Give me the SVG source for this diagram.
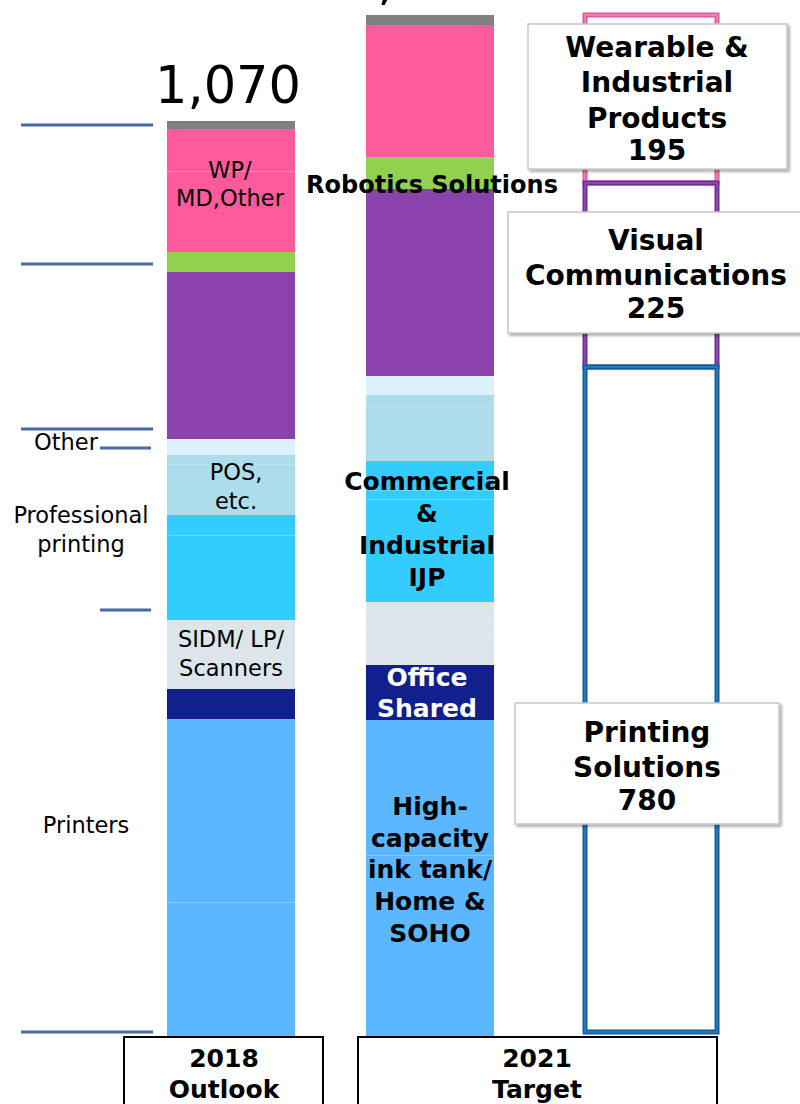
<svg xmlns="http://www.w3.org/2000/svg" width="800" height="1104" viewBox="0 0 800 1104">
<defs>
<style>
.t{font-family:"DejaVu Sans","Verdana",sans-serif;fill:#000;text-anchor:middle}
.r{font-size:22.5px}
.b{font-size:25px;font-weight:bold}
.bb{font-size:28px;font-weight:bold}
.w{fill:#fff}
.ax{stroke:#4A69A4;stroke-width:3;fill:none}
.seam{stroke:#fff;stroke-opacity:0.25;stroke-width:1}
.lbl{fill:#fff;stroke:#000;stroke-width:2}
.card{fill:#fff;stroke:#C8C8C8;stroke-width:1.5}
</style>
<filter id="sh" x="-10%" y="-10%" width="125%" height="130%">
<feGaussianBlur in="SourceAlpha" stdDeviation="1.5"/>
<feOffset dx="2" dy="2" result="o"/>
<feFlood flood-color="#000" flood-opacity="0.35"/>
<feComposite in2="o" operator="in"/>
<feMerge><feMergeNode/><feMergeNode in="SourceGraphic"/></feMerge>
</filter>
</defs>
<rect width="800" height="1104" fill="#fff"/>

<g id="axis-lines">
<line class="ax" x1="21" y1="125" x2="153" y2="125"/>
<line class="ax" x1="21" y1="264" x2="153" y2="264"/>
<line class="ax" x1="21" y1="429" x2="153" y2="429"/>
<line class="ax" x1="100" y1="448" x2="151" y2="448"/>
<line class="ax" x1="100" y1="610" x2="151" y2="610"/>
<line class="ax" x1="21" y1="1032" x2="153" y2="1032"/>
</g>

<g id="left-labels">
<text class="t r" x="66" y="450">Other</text>
<text class="t r" x="81" y="523">Professional</text>
<text class="t r" x="81" y="552">printing</text>
<text class="t r" x="86" y="833">Printers</text>
</g>

<g id="bar-2018">
<rect x="167" y="121" width="128" height="8" fill="#808080"/>
<rect x="167" y="129" width="128" height="123" fill="#FF5A9B"/>
<rect x="167" y="252" width="128" height="20" fill="#92D050"/>
<rect x="167" y="272" width="128" height="167" fill="#8B43AB"/>
<rect x="167" y="439" width="128" height="16" fill="#DCF1FB"/>
<rect x="167" y="455" width="128" height="60" fill="#ADDCEB"/>
<rect x="167" y="515" width="128" height="105" fill="#33CCFF"/>
<rect x="167" y="620" width="128" height="69" fill="#DCE6EA"/>
<rect x="167" y="689" width="128" height="30" fill="#12208D"/>
<rect x="167" y="719" width="128" height="320" fill="#5BB7FF"/>
<line class="seam" x1="167" y1="171.5" x2="295" y2="171.5"/>
<line class="seam" x1="167" y1="464.5" x2="295" y2="464.5"/>
<line class="seam" x1="167" y1="535.5" x2="295" y2="535.5"/>
<line class="seam" x1="167" y1="902.5" x2="295" y2="902.5"/>
<text class="t" x="228" y="103" style="font-size:51px">1,070</text>
<text class="t r" x="230" y="178">WP/</text>
<text class="t r" x="230" y="206">MD,Other</text>
<text class="t r" x="236" y="480">POS,</text>
<text class="t r" x="236" y="509">etc.</text>
<text class="t r" x="231" y="647">SIDM/ LP/</text>
<text class="t r" x="231" y="676">Scanners</text>
</g>

<g id="bar-2021">
<rect x="366" y="15" width="128" height="10" fill="#808080"/>
<rect x="366" y="25" width="128" height="132" fill="#FF5A9B"/>
<rect x="366" y="157" width="128" height="32" fill="#92D050"/>
<rect x="366" y="189" width="128" height="187" fill="#8B43AB"/>
<rect x="366" y="376" width="128" height="19" fill="#DCF1FB"/>
<rect x="366" y="395" width="128" height="66" fill="#ADDCEB"/>
<rect x="366" y="461" width="128" height="141" fill="#33CCFF"/>
<rect x="366" y="602" width="128" height="63" fill="#DCE6EA"/>
<rect x="366" y="665" width="128" height="55" fill="#12208D"/>
<rect x="366" y="720" width="128" height="319" fill="#5BB7FF"/>
<line class="seam" x1="366" y1="406.5" x2="494" y2="406.5"/>
<line class="seam" x1="366" y1="490.5" x2="494" y2="490.5"/>
<line class="seam" x1="366" y1="499.5" x2="494" y2="499.5"/>
<line class="seam" x1="366" y1="623.5" x2="494" y2="623.5"/>
<line class="seam" x1="366" y1="639.5" x2="494" y2="639.5"/>
<line class="seam" x1="366" y1="855.5" x2="494" y2="855.5"/>
<text class="t" x="418" y="-1" style="font-size:51px">1,200</text>
<text class="t" x="432" y="193" style="font-size:24px;font-weight:bold">Robotics Solutions</text>
<text class="t b" x="427" y="490">Commercial</text>
<text class="t b" x="427" y="522">&amp;</text>
<text class="t b" x="427" y="554">Industrial</text>
<text class="t b" x="427" y="586">IJP</text>
<text class="t b w" x="427" y="686">Office</text>
<text class="t b w" x="427" y="717">Shared</text>
<text class="t b" x="430" y="815">High-</text>
<text class="t b" x="430" y="847">capacity</text>
<text class="t b" x="430" y="878">ink tank/</text>
<text class="t b" x="430" y="910">Home &amp;</text>
<text class="t b" x="430" y="942">SOHO</text>
</g>

<g id="segment-frames">
<rect x="585" y="15" width="132" height="168" fill="none" stroke="#E0579A" stroke-width="5"/>
<rect x="585" y="15" width="132" height="168" fill="none" stroke="#F59AC4" stroke-width="1.2"/>
<rect x="585" y="183" width="132" height="184" fill="none" stroke="#6E2E92" stroke-width="5"/>
<rect x="585" y="183" width="132" height="184" fill="none" stroke="#9A5CC0" stroke-width="1.2"/>
<rect x="585" y="367" width="132" height="665" fill="none" stroke="#0F5FA0" stroke-width="5"/>
<rect x="585" y="367" width="132" height="665" fill="none" stroke="#3C88C8" stroke-width="1.2"/>
</g>

<g id="card-wearable">
<rect class="card" x="528" y="24" width="259" height="145" filter="url(#sh)"/>
<text class="t bb" x="657" y="57">Wearable &amp;</text>
<text class="t bb" x="657" y="92">Industrial</text>
<text class="t bb" x="657" y="128">Products</text>
<text class="t bb" x="657" y="160">195</text>
</g>

<g id="card-visual">
<rect class="card" x="508" y="212" width="300" height="121" filter="url(#sh)"/>
<text class="t bb" x="656" y="250">Visual</text>
<text class="t bb" x="656" y="285">Communications</text>
<text class="t bb" x="656" y="318">225</text>
</g>

<g id="card-printing">
<rect class="card" x="515" y="703" width="264" height="121" filter="url(#sh)"/>
<text class="t bb" x="647" y="742">Printing</text>
<text class="t bb" x="647" y="777">Solutions</text>
<text class="t bb" x="647" y="810">780</text>
</g>

<g id="label-2018">
<rect class="lbl" x="124" y="1037" width="199" height="80"/>
<text class="t b" x="224" y="1067">2018</text>
<text class="t b" x="224" y="1098">Outlook</text>
</g>

<g id="label-2021">
<rect class="lbl" x="358" y="1037" width="359" height="80"/>
<text class="t b" x="537" y="1067">2021</text>
<text class="t b" x="537" y="1098">Target</text>
</g>
</svg>
